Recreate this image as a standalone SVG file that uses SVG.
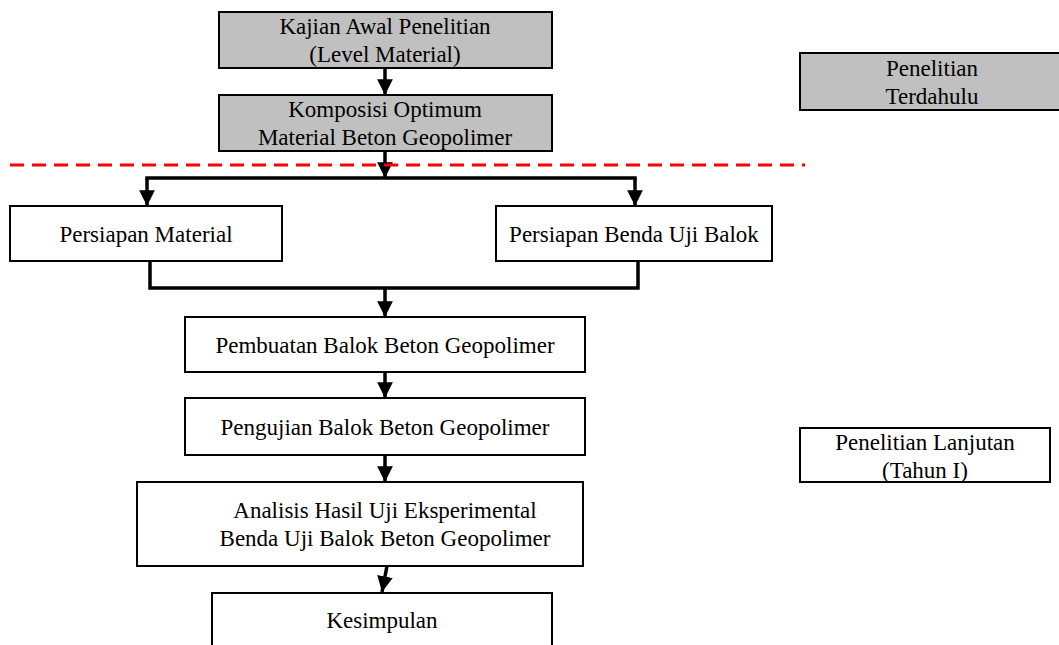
<svg xmlns="http://www.w3.org/2000/svg" width="1059" height="645" viewBox="0 0 1059 645">
<style>
.box{stroke:#000;stroke-width:2}
.g{fill:#c0c0c0}
.w{fill:#fff}
text{font-family:"Liberation Serif","Times New Roman",serif;font-size:23px;fill:#000;text-anchor:middle}
.c{fill:none;stroke:#000;stroke-width:3.5}
</style>
<defs>
<marker id="ah" markerUnits="userSpaceOnUse" markerWidth="18" markerHeight="16" viewBox="0 0 16 14" refX="14" refY="7" orient="auto">
<path d="M0,0 L14,7 L0,14 Z" fill="#000"/>
</marker>
</defs>
<rect width="1059" height="645" fill="#fff"/>
<g id="connectors">
<line class="c" x1="385" y1="68" x2="385" y2="95" marker-end="url(#ah)"/>
<line class="c" x1="385" y1="151" x2="385" y2="178" marker-end="url(#ah)"/>
<polyline class="c" points="147,180 147,178 635,178 635,180"/>
<line class="c" x1="147" y1="178" x2="147" y2="206" marker-end="url(#ah)"/>
<line class="c" x1="635" y1="178" x2="635" y2="206" marker-end="url(#ah)"/>
<polyline class="c" points="150,261 150,288 638,288 638,261"/>
<line class="c" x1="385" y1="288" x2="385" y2="317" marker-end="url(#ah)"/>
<line class="c" x1="385" y1="372" x2="385" y2="398" marker-end="url(#ah)"/>
<line class="c" x1="385" y1="455" x2="385" y2="482" marker-end="url(#ah)"/>
<line class="c" x1="387" y1="566" x2="382" y2="592" marker-end="url(#ah)"/>
<line x1="10" y1="165" x2="805" y2="165" stroke="#ff0000" stroke-width="3" stroke-dasharray="14 8"/>
</g>
<g id="kajian"><rect class="box g" x="219" y="12" width="333" height="56"/><text x="385" y="34">Kajian Awal Penelitian</text><text x="385" y="62">(Level Material)</text></g>
<g id="komposisi"><rect class="box g" x="219" y="95" width="333" height="56"/><text x="385" y="117">Komposisi Optimum</text><text x="385" y="145">Material Beton Geopolimer</text></g>
<g id="persiapan-material"><rect class="box w" x="10" y="206" width="272" height="55"/><text x="146" y="242">Persiapan Material</text></g>
<g id="persiapan-benda"><rect class="box w" x="496" y="206" width="276" height="55"/><text x="634" y="242">Persiapan Benda Uji Balok</text></g>
<g id="pembuatan"><rect class="box w" x="185" y="317" width="400" height="55"/><text x="385" y="353">Pembuatan Balok Beton Geopolimer</text></g>
<g id="pengujian"><rect class="box w" x="185" y="398" width="400" height="57"/><text x="385" y="435">Pengujian Balok Beton Geopolimer</text></g>
<g id="analisis"><rect class="box w" x="137" y="482" width="446" height="84"/><text x="385" y="518">Analisis Hasil Uji Eksperimental</text><text x="385" y="546">Benda Uji Balok Beton Geopolimer</text></g>
<g id="kesimpulan"><rect class="box w" x="212" y="593" width="340" height="60"/><text x="382" y="628">Kesimpulan</text></g>
<g id="penelitian-terdahulu"><rect class="box g" x="800" y="53" width="262" height="57"/><text x="932" y="76">Penelitian</text><text x="932" y="104">Terdahulu</text></g>
<g id="penelitian-lanjutan"><rect class="box w" x="800" y="428" width="250" height="54"/><text x="925" y="450">Penelitian Lanjutan</text><text x="925" y="478">(Tahun I)</text></g>
</svg>
